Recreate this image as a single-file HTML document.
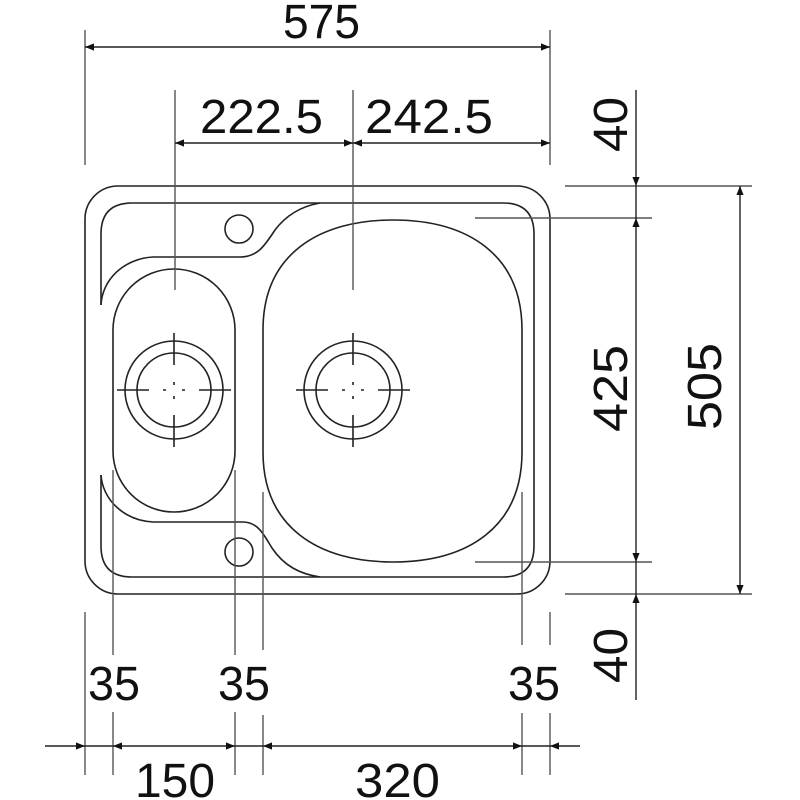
<!DOCTYPE html>
<html><head><meta charset="utf-8"><style>html,body{margin:0;background:#fff}svg{display:block}</style></head>
<body>
<svg width="800" height="800" viewBox="0 0 800 800" xmlns="http://www.w3.org/2000/svg">
<defs>
<marker id="a" viewBox="0 0 10 10" refX="10" refY="5" markerWidth="22" markerHeight="9" markerUnits="userSpaceOnUse" orient="auto-start-reverse"><path d="M0,1 L10,5 L0,9 Z" fill="#111"/></marker>
</defs>
<g fill="none" stroke="#222" stroke-width="1.6">
<rect x="85" y="186" width="465" height="408" rx="33"/>
<path d="M320,203 L503,203 Q534,203 534,234 L534,546 Q534,577 503,577 L320,577"/>
<path d="M101,305 L101,234 Q101,203 132,203 L320,203"/>
<path d="M101,475 L101,546 Q101,577 132,577 L320,577"/>
<path d="M101,305 A55,50 0 0 1 153,257 L240,257 C258,257 265,245 275,230 C287,214 303,206 320,203"/>
<path d="M101,475 A55,50 0 0 0 153,522 L243,522 C258,522 264,535 272,548 C284,566 300,574 320,577"/>
<rect x="113" y="269" width="122" height="243" rx="61"/>
<path d="M263,330 C263,255 318,220 393,220 C468,220 522,255 522,330 L522,452 C522,527 468,562 393,562 C318,562 263,527 263,452 Z"/>
<circle cx="239" cy="229" r="14"/><circle cx="239" cy="552" r="14"/>
<circle cx="174" cy="390" r="49"/><circle cx="174" cy="390" r="37"/>
<circle cx="353" cy="390" r="49"/><circle cx="353" cy="390" r="37"/>
<path d="M117,390h32M163,390h3M182,390h3M199,390h32M174,333v32M174,382v3M174,396v3M174,415v32"/>
<path d="M296,390h32M342,390h3M361,390h3M378,390h32M353,333v32M353,382v3M353,396v3M353,415v32"/>
</g>
<g fill="none" stroke="#555" stroke-width="1.4">
<path d="M85,30V165M550,30V165M175,90V290M353,90V290"/>
<path d="M565,186H752M565,594H752M475,218H652M475,562H652"/>
<path d="M85,612V775M113,470V655M113,712V775M235,470V655M235,712V775M263,492V650M263,715V775M522,492V645M522,713V775M550,612V645M550,713V775"/>
</g>
<g stroke="#222" stroke-width="1.4" fill="none">
<line x1="85" y1="47" x2="550" y2="47" marker-start="url(#a)" marker-end="url(#a)"/>
<line x1="175" y1="143" x2="353" y2="143" marker-start="url(#a)" marker-end="url(#a)"/>
<line x1="353" y1="143" x2="550" y2="143" marker-start="url(#a)" marker-end="url(#a)"/>
<line x1="740" y1="186" x2="740" y2="594" marker-start="url(#a)" marker-end="url(#a)"/>
<line x1="636" y1="218" x2="636" y2="562" marker-start="url(#a)" marker-end="url(#a)"/>
<line x1="636" y1="90" x2="636" y2="186" marker-end="url(#a)"/>
<line x1="636" y1="186" x2="636" y2="218"/>
<line x1="636" y1="562" x2="636" y2="594"/>
<line x1="636" y1="700" x2="636" y2="594" marker-end="url(#a)"/>
<line x1="45" y1="746" x2="85" y2="746" marker-end="url(#a)"/>
<line x1="85" y1="746" x2="113" y2="746"/>
<line x1="113" y1="746" x2="235" y2="746" marker-start="url(#a)" marker-end="url(#a)"/>
<line x1="235" y1="746" x2="263" y2="746"/>
<line x1="263" y1="746" x2="522" y2="746" marker-start="url(#a)" marker-end="url(#a)"/>
<line x1="522" y1="746" x2="550" y2="746"/>
<line x1="580" y1="746" x2="550" y2="746" marker-end="url(#a)"/>
</g>
<g font-family="Liberation Sans, sans-serif" font-size="48" fill="#111" lengthAdjust="spacingAndGlyphs">
<text x="283" y="38" textLength="77" lengthAdjust="spacingAndGlyphs">575</text>
<text x="200" y="133" textLength="123" lengthAdjust="spacingAndGlyphs">222.5</text>
<text x="365" y="133" textLength="128" lengthAdjust="spacingAndGlyphs">242.5</text>
<text x="88" y="700" textLength="52" lengthAdjust="spacingAndGlyphs">35</text>
<text x="218" y="700" textLength="52" lengthAdjust="spacingAndGlyphs">35</text>
<text x="508" y="700" textLength="52" lengthAdjust="spacingAndGlyphs">35</text>
<text x="135" y="797" textLength="80" lengthAdjust="spacingAndGlyphs">150</text>
<text x="355" y="797" textLength="85" lengthAdjust="spacingAndGlyphs">320</text>
<text transform="translate(627,152) rotate(-90)" textLength="55" lengthAdjust="spacingAndGlyphs">40</text>
<text transform="translate(627,683) rotate(-90)" textLength="55" lengthAdjust="spacingAndGlyphs">40</text>
<text transform="translate(627,432) rotate(-90)" textLength="87" lengthAdjust="spacingAndGlyphs">425</text>
<text transform="translate(721,430) rotate(-90)" textLength="87" lengthAdjust="spacingAndGlyphs">505</text>
</g>
</svg>
</body></html>
